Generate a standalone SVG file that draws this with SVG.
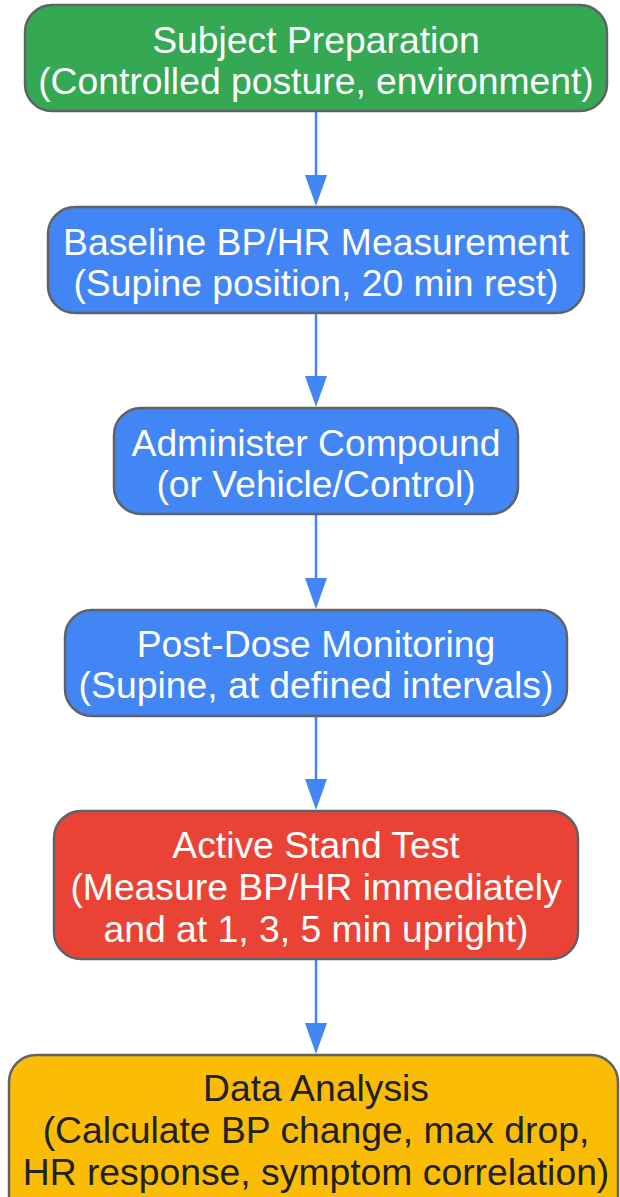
<svg xmlns="http://www.w3.org/2000/svg" width="620" height="1197" viewBox="0 0 620 1197">
<style>
.n{stroke:#5f6368;stroke-width:2.5}
.t{font-family:"Liberation Sans",Arial,sans-serif;font-size:37.3px;text-anchor:middle;fill:#ffffff}
.d{fill:#202124}
.c{stroke:#4285F4;stroke-width:2.5;fill:none}
.a{fill:#4285F4}
</style>
<g id="connectors">
<line class="c" x1="316" y1="111" x2="316" y2="176"/><path class="a" d="M305,175 L327,175 L316,206 Z"/>
<line class="c" x1="316" y1="313" x2="316" y2="377"/><path class="a" d="M305,376 L327,376 L316,407 Z"/>
<line class="c" x1="316" y1="514" x2="316" y2="579"/><path class="a" d="M305,578 L327,578 L316,609 Z"/>
<line class="c" x1="316" y1="716" x2="316" y2="780"/><path class="a" d="M305,779 L327,779 L316,810 Z"/>
<line class="c" x1="316" y1="959" x2="316" y2="1024"/><path class="a" d="M305,1023 L327,1023 L316,1054 Z"/>
</g>
<g id="node1">
<rect class="n" x="25" y="5" width="582" height="106" rx="27" fill="#34A853"/>
<text class="t" x="316" y="53">Subject Preparation</text>
<text class="t" x="316" y="94">(Controlled posture, environment)</text>
</g>
<g id="node2">
<rect class="n" x="48" y="207" width="536" height="106" rx="27" fill="#4285F4"/>
<text class="t" x="316" y="255">Baseline BP/HR Measurement</text>
<text class="t" x="316" y="296">(Supine position, 20 min rest)</text>
</g>
<g id="node3">
<rect class="n" x="114" y="408" width="404" height="106" rx="27" fill="#4285F4"/>
<text class="t" x="316" y="456">Administer Compound</text>
<text class="t" x="316" y="497">(or Vehicle/Control)</text>
</g>
<g id="node4">
<rect class="n" x="65" y="610" width="502" height="106" rx="27" fill="#4285F4"/>
<text class="t" x="316" y="657">Post-Dose Monitoring</text>
<text class="t" x="316" y="698">(Supine, at defined intervals)</text>
</g>
<g id="node5">
<rect class="n" x="54" y="811" width="524" height="148" rx="27" fill="#EA4335"/>
<text class="t" x="316" y="858">Active Stand Test</text>
<text class="t" x="316" y="900">(Measure BP/HR immediately</text>
<text class="t" x="316" y="942">and at 1, 3, 5 min upright)</text>
</g>
<g id="node6">
<rect class="n" x="9" y="1055" width="609" height="170" rx="27" fill="#FBBC05"/>
<text class="t d" x="316" y="1101">Data Analysis</text>
<text class="t d" x="316" y="1143">(Calculate BP change, max drop,</text>
<text class="t d" x="316" y="1185">HR response, symptom correlation)</text>
</g>
</svg>
